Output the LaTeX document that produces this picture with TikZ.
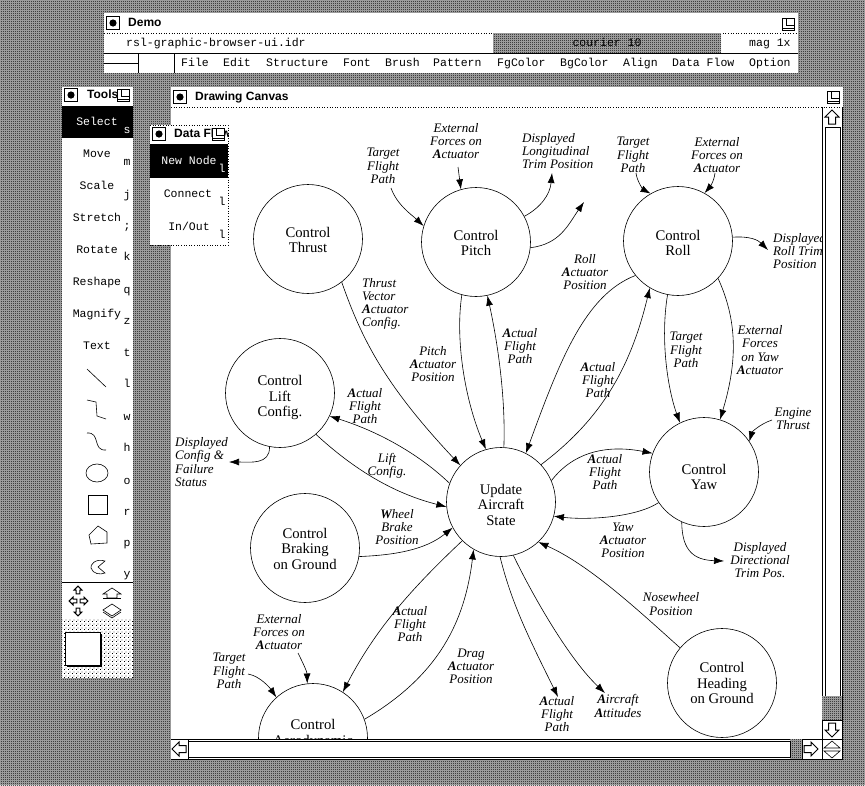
\documentclass[tikz,border=0pt]{standalone}
\usepackage{fontspec}
\setmainfont{Liberation Serif}
\setsansfont{Liberation Sans}
\setmonofont{Liberation Mono}
\usetikzlibrary{arrows.meta,patterns}

\newcommand{\bA}{{\bfseries A}}
\newcommand{\txtdrop}[1]{\rule{0pt}{#1pt}}

\pgfdeclarepatternformonly{dith}{\pgfqpoint{0pt}{0pt}}{\pgfqpoint{2pt}{2pt}}{\pgfqpoint{2pt}{2pt}}{
  \pgfpathrectangle{\pgfqpoint{0pt}{0pt}}{\pgfqpoint{1pt}{1pt}}
  \pgfpathrectangle{\pgfqpoint{1pt}{1pt}}{\pgfqpoint{1pt}{1pt}}
  \pgfusepath{fill}
}
\pgfdeclarepatternformonly{dith dots}{\pgfqpoint{0pt}{0pt}}{\pgfqpoint{4pt}{4pt}}{\pgfqpoint{4pt}{4pt}}{
  \pgfpathrectangle{\pgfqpoint{0pt}{0pt}}{\pgfqpoint{1pt}{1pt}}
  \pgfpathrectangle{\pgfqpoint{2pt}{2pt}}{\pgfqpoint{1pt}{1pt}}
  \pgfusepath{fill}
}

\tikzset{
  proc/.style={circle,draw,fill=white,line width=.6pt,minimum size=109pt,inner sep=0pt,align=center,font=\fontsize{14.7}{15.5}\selectfont},
  lbl/.style={inner sep=0pt,align=center,font=\fontsize{13}{13.2}\selectfont\itshape},
  lbll/.style={lbl,align=left},
  flow/.style={draw,line width=.6pt,-{Latex[length=10pt,width=7pt]}},
  title/.style={inner sep=0pt,anchor=west,text height=9.5pt,text depth=2.5pt,font=\fontsize{12}{12}\sffamily\bfseries\selectfont},
  mono/.style={inner sep=0pt,text height=9.5pt,text depth=2pt,font=\fontsize{11.5}{12}\ttfamily\selectfont},
  monol/.style={mono,anchor=west},
  keyl/.style={mono,text height=8pt,text depth=2.5pt},
  winbg/.style={fill=white,draw=none},
  dither/.style={fill=black!30,postaction={pattern=dith},draw=none},
  sep/.style={line width=.6pt,dotted},
  iconline/.style={line width=.6pt},
  winclose/.pic={
    \draw[line width=.7pt,fill=white] (-6.5,-6.5) rectangle (6.5,6.5);
    \fill (0,0) circle (3.6);
  },
  winzoom/.pic={
    \draw[line width=.7pt,fill=white] (-6,-6) rectangle (6,6);
    \draw[line width=.7pt] (-2,-6) -- (-2,1) -- (6,1);
    \draw[line width=.7pt] (-6,4.5) -- (6,4.5);
  },
  blockarrow/.pic={
    \draw[line width=1pt,fill=white,line join=miter] (0,-7) -- (7,0) -- (3.5,0) -- (3.5,7) -- (-3.5,7) -- (-3.5,0) -- (-7,0) -- cycle;
  }
}

\begin{document}
\begin{tikzpicture}[x=1pt,y=-1pt]
\useasboundingbox (0,0) rectangle (865,785);
\fill[dither] (0,0) rectangle (865,785);

% demo window
\fill[winbg] (104,13) rectangle (798,73);
\draw[sep] (104,33) -- (798,33);
\draw[line width=.8pt] (104,53) -- (798,53);
\fill[dither] (493,33.4) rectangle (721,52.6);
\draw[iconline] (104,63) -- (138,63);
\draw[iconline] (138,53) -- (138,73);
\draw[iconline] (174,53) -- (174,73);
\pic at (113,23) {winclose};
\pic at (788,24) {winzoom};
\node[title] (demotitle) at (128,23) {Demo};
\node[monol] (idrfile) at (126,43) {rsl-graphic-browser-ui.idr};
\node[mono] (fontname) at (607,43) {courier 10};
\node[monol] (magval) at (749,43) {mag 1x};
\node[monol] (mfile) at (181,63) {File};
\node[monol] (medit) at (223,63) {Edit};
\node[monol] (mstruct) at (266,63) {Structure};
\node[monol] (mfont) at (343,63) {Font};
\node[monol] (mbrush) at (385,63) {Brush};
\node[monol] (mpattern) at (433,63) {Pattern};
\node[monol] (mfg) at (497,63) {FgColor};
\node[monol] (mbg) at (560,63) {BgColor};
\node[monol] (malign) at (623,63) {Align};
\node[monol] (mdata) at (672,63) {Data Flow};
\node[monol] (moption) at (749,63) {Option};

% canvas window
\fill[winbg] (171,87) rectangle (843,759);
\draw[sep] (171,107) -- (843,107);
\pic at (180,97) {winclose};
\pic at (833,97) {winzoom};
\node[title] (canvastitle) at (195,97) {Drawing Canvas};

\begin{scope}
\clip (172,108) rectangle (822,739);

\node[proc] (thrust) at (308,239) {\txtdrop{12}Control\\Thrust};
\node[proc] (pitch) at (476,242) {\txtdrop{12}Control\\Pitch};
\node[proc] (roll) at (678,241) {\txtdrop{14}Control\\Roll};
\node[proc] (lift) at (280,393) {\txtdrop{20}Control\\Lift\\Config.};
\node[proc] (update) at (501,502) {\txtdrop{16}Update\\Aircraft\\State};
\node[proc] (yaw) at (704,472) {\txtdrop{20}Control\\Yaw};
\node[proc] (braking) at (305,548) {\txtdrop{12}Control\\Braking\\on Ground};
\node[proc] (aero) at (313,738) {\txtdrop{14}Control\\Aerodynamic\\ \ };
\node[proc] (heading) at (722,683) {Control\\Heading\\on Ground};

\coordinate (tgtpitch) at (391,188);
\coordinate (extpitch) at (458,167);
\coordinate (disptrim) at (552,173);
\coordinate (loosearrow) at (584,202);
\coordinate (tgtroll) at (636,173);
\coordinate (extroll) at (715,173);
\coordinate (disproll) at (768,250);
\coordinate (engine) at (772,420);
\coordinate (dispdir) at (724,561);
\coordinate (dispcfg) at (229,462);
\coordinate (extaero) at (298,653);
\coordinate (tgtaero) at (248,674);
\coordinate (actual) at (558,697);
\coordinate (attitude) at (605,693);

\draw[flow] (thrust.-52) .. controls (362,340) and (385,385) .. (update.138);
\draw[flow] (pitch.-105) .. controls (455,340) and (465,400) .. (update.106);
\draw[flow] (update.87) .. controls (506,390) and (495,330) .. (pitch.-78);
\draw[flow] (roll.-141) .. controls (585,295) and (560,360) .. (update.63);
\draw[flow] (update.43) .. controls (600,420) and (630,370) .. (roll.-121);
\draw[flow] (roll.-101) .. controls (660,340) and (668,390) .. (yaw.116);
\draw[flow] (roll.-43) .. controls (737,320) and (738,360) .. (yaw.73);
\draw[flow] (update.23) .. controls (575,450) and (610,445) .. (yaw.160);
\draw[flow] (yaw.-146) .. controls (635,518) and (585,520) .. (update.-15);
\draw[flow] (engine) .. controls (760,424) and (752,432) .. (yaw.34);
\draw[flow] (yaw.-114) .. controls (682,552) and (695,560) .. (dispdir);
\draw[flow] (roll.4) .. controls (750,236) and (758,240) .. (disproll);
\draw[flow] (tgtroll) .. controls (637,182) and (644,190) .. (roll.120);
\draw[flow] (extroll) .. controls (714,182) and (709,188) .. (roll.61);
\draw[flow] (extpitch) -- (pitch.106);
\draw[flow] (tgtpitch) .. controls (397,205) and (412,215) .. (pitch.163);
\draw[flow] (pitch.28) .. controls (540,208) and (550,195) .. (disptrim);
\draw[flow] (pitch.-6) .. controls (560,244) and (568,225) .. (loosearrow);
\draw[flow] (update.160) .. controls (420,455) and (380,432) .. (lift.-25);
\draw[flow] (lift.-49) .. controls (360,475) and (400,495) .. (update.-175);
\draw[flow] (lift.-101) .. controls (270,465) and (250,462) .. (dispcfg);
\draw[flow] (braking.-9) .. controls (395,555) and (425,550) .. (update.-152);
\draw[flow] (update.-135) .. controls (410,590) and (375,630) .. (aero.57);
\draw[flow] (aero.20) .. controls (440,675) and (465,620) .. (update.-120);
\draw[flow] (extaero) .. controls (304,665) and (307,672) .. (aero.96);
\draw[flow] (tgtaero) .. controls (260,676) and (270,688) .. (aero.132);
\draw[flow] (update.-91) .. controls (512,605) and (530,640) .. (actual);
\draw[flow] (update.-77) .. controls (535,600) and (570,660) .. (attitude);
\draw[flow] (heading.140) .. controls (640,612) and (590,565) .. (update.-47);

\node[lbl] (ltgtpitch) at (383,166) {Target\\Flight\\Path};
\node[lbl] (lextpitch) at (456,141) {External\\Forces on\\\bA ctuator};
\node[lbll,anchor=west] (ldisptrim) at (522,151) {Displayed\\Longitudinal\\Trim Position};
\node[lbl] (ltgtroll) at (633,155) {Target\\Flight\\Path};
\node[lbl] (lextroll) at (717,155) {External\\Forces on\\\bA ctuator};
\node[lbll,anchor=west] (ldisproll) at (773,251) {Displayed\\Roll Trim\\Position};
\node[lbl] (lrollpos) at (585,272) {Roll\\\bA ctuator\\Position};
\node[lbll,anchor=west] (lvector) at (362,304) {Thrust\\Vector\\\bA ctuator\\Config.};
\node[lbl] (lactpitch) at (520,346) {\bA ctual\\Flight\\Path};
\node[lbl] (lpitchpos) at (433,364) {Pitch\\\bA ctuator\\Position};
\node[lbl] (lactroll) at (598,380) {\bA ctual\\Flight\\Path};
\node[lbl] (ltgtyaw) at (686,350) {Target\\Flight\\Path};
\node[lbl] (lextyaw) at (760,350) {External\\Forces\\on Yaw\\\bA ctuator};
\node[lbl] (lengine) at (793,419) {Engine\\Thrust};
\node[lbl] (lactlift) at (365,406) {\bA ctual\\Flight\\Path};
\node[lbl] (lliftcfg) at (387,466) {Lift\\Config.};
\node[lbll,anchor=west] (ldispcfg) at (175,462) {Displayed\\Config \&\\Failure\\Status};
\node[lbl] (lactyaw) at (605,472) {\bA ctual\\Flight\\Path};
\node[lbl] (lyawpos) at (623,540) {Yaw\\\bA ctuator\\Position};
\node[lbl] (ldispdir) at (760,560) {Displayed\\Directional\\Trim Pos.};
\node[lbl] (lwheel) at (397,527) {\textbf{W}heel\\Brake\\Position};
\node[lbl] (lnose) at (671,604) {Nosewheel\\Position};
\node[lbl] (lactaero) at (410,624) {\bA ctual\\Flight\\Path};
\node[lbl] (ldrag) at (471,666) {Drag\\\bA ctuator\\Position};
\node[lbl] (lextaero) at (279,632) {External\\Forces on\\\bA ctuator};
\node[lbl] (ltgtaero) at (229,671) {Target\\Flight\\Path};
\node[lbl] (lactual) at (557,714) {\bA ctual\\Flight\\Path};
\node[lbl] (lattitude) at (618,706) {\bA ircraft\\\bA ttitudes};
\end{scope}

% scroll bars
\draw[line width=.8pt] (171,739) -- (843,739) (171,759) -- (843,759);
\draw[line width=.8pt] (822,107) -- (822,759) (842,107) -- (842,759);
\draw[line width=.8pt] (188,739) -- (188,759) (790,739) -- (790,759) (802,739) -- (802,759);
\fill[dither] (790.4,739.4) rectangle (801.6,758.6);
\draw[line width=.8pt] (188,741) rectangle (790,757);
\draw[line width=1pt] (825,127) rectangle (840,696);
\fill[dither] (822.4,696) rectangle (841.6,720);
\draw[line width=.8pt] (822,720) -- (842,720);
\pic at (832,117) {blockarrow};
\pic[rotate=180] at (832,730) {blockarrow};
\pic[rotate=-90] at (811,749) {blockarrow};
\pic[rotate=90] at (179,749) {blockarrow};
\draw[iconline] (832,741) -- (840,748) -- (824,748) -- cycle;
\draw[iconline] (824,751) -- (840,751) -- (832,758) -- cycle;

% tools window
\fill[winbg] (62,87) rectangle (133,678);
\draw[sep] (62,106) -- (133,106);
\fill (62,106) rectangle (133,138);
\pic at (71,95) {winclose};
\pic at (123,95) {winzoom};
\node[title] (toolstitle) at (87,95) {Tools};
\node[mono,text=white] (tselect) at (97,122) {Select};
\node[mono] (tmove) at (97,154) {Move};
\node[mono] (tscale) at (97,186) {Scale};
\node[mono] (tstretch) at (97,218) {Stretch};
\node[mono] (trotate) at (97,250) {Rotate};
\node[mono] (treshape) at (97,282) {Reshape};
\node[mono] (tmagnify) at (97,314) {Magnify};
\node[mono] (ttext) at (97,346) {Text};
\node[keyl,text=white] (ks) at (127,131) {s};
\foreach \key/\ypos in {m/163,j/196,;/227,k/258,q/291,z/322,t/354,l/385,w/418,h/449,o/482,r/513,p/544,y/575}
  \node[keyl] (k\ypos) at (127,\ypos) {\key};
\draw[iconline] (87,369) -- (106,387);
\draw[iconline] (87,400) -- (96,402) -- (97,416) -- (106,419);
\draw[iconline] (87,433) .. controls (101,432) and (92,451) .. (106,450);
\draw[iconline] (97,473) ellipse (11 and 9);
\draw[iconline] (88,495) rectangle (107,514);
\draw[iconline] (89,535) -- (98,526) -- (107,532) -- (107,543) -- (91,544) -- cycle;
\draw[iconline] (105,561) .. controls (95,558) and (90,565) .. (91,568) .. controls (93,574) and (100,575) .. (105,573) -- (98,567) -- cycle;
\draw[line width=.8pt] (62,582) -- (133,582);
\draw[line width=.8pt] (62,619) -- (133,619);
\fill[winbg] (62,619.4) rectangle (133,678);
\fill[pattern=dith dots] (62,619.4) rectangle (133,678);
\pic[scale=.55] at (78,590) {blockarrow};
\pic[scale=.55,rotate=90] at (73,601) {blockarrow};
\pic[scale=.55,rotate=-90] at (84,601) {blockarrow};
\pic[scale=.55,rotate=180] at (78,612) {blockarrow};
\draw[iconline,fill=white] (112,588) -- (121,594) -- (117,594) -- (117,598) -- (107,598) -- (107,594) -- (103,594) -- cycle;
\draw[iconline] (103,598) -- (121,598);
\draw[iconline,fill=white] (112,604) -- (121,610) -- (112,616) -- (103,610) -- cycle;
\draw[iconline] (103,612) -- (112,618) -- (121,612);
\fill (67,634) rectangle (102,667);
\draw[iconline,fill=white] (65,632) rectangle (100.5,665);

% data flow window
\fill[winbg] (150,125) rectangle (228,245);
\draw[sep] (150,125) -- (228,125) -- (228,245) -- (150,245);
\fill (150,144) rectangle (228,178);
\begin{scope}
\clip (150,125) rectangle (228,144);
\node[title] (dftitle) at (174,134) {Data Flow};
\end{scope}
\pic at (159,134) {winclose};
\pic at (218,134) {winzoom};
\node[mono,text=white] (dfnew) at (189,161) {New Node};
\node[mono] (dfconnect) at (188,194) {Connect};
\node[mono] (dfinout) at (189,227) {In/Out};
\node[keyl,text=white] (dfk1) at (222,170) {l};
\node[keyl] (dfk2) at (222,203) {l};
\node[keyl] (dfk3) at (222,236) {l};

\end{tikzpicture}
\end{document}
